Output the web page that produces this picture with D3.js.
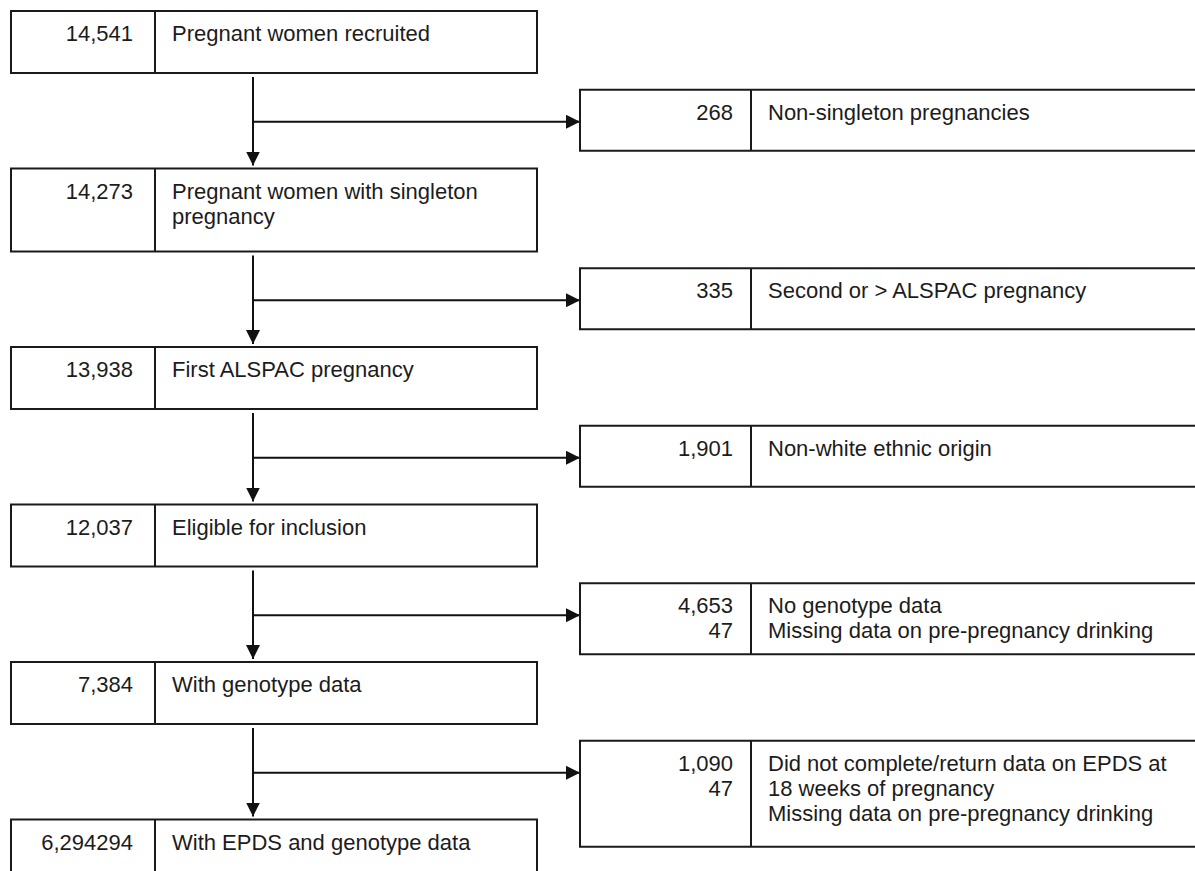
<!DOCTYPE html>
<html>
<head>
<meta charset="utf-8">
<script src="https://cdn.jsdelivr.net/npm/d3@7"></script>
<style>
  html, body { margin: 0; padding: 0; background: #fff; }
  svg { display: block; }
  text { font-family: "Liberation Sans", Arial, sans-serif; font-size: 22px; fill: #1c1c1c; }
</style>
</head>
<body>
<div id="chart"></div>
<script>
// flow data
const mainCounts = ["14,541", "14,273", "13,938", "12,037", "7,384", "6,294294"];
const mainLabels = [
    ["Pregnant women recruited"],
    ["Pregnant women with singleton", "pregnancy"],
    ["First ALSPAC pregnancy"],
    ["Eligible for inclusion"],
    ["With genotype data"],
    ["With EPDS and genotype data"]
];
const excludedCounts = [["268"], ["335"], ["1,901"], ["4,653", "47"], ["1,090", "47"]];
const excludedLabels = [
    ["Non-singleton pregnancies"],
    ["Second or > ALSPAC pregnancy"],
    ["Non-white ethnic origin"],
    ["No genotype data", "Missing data on pre-pregnancy drinking"],
    ["Did not complete/return data on EPDS at", "18 weeks of pregnancy", "Missing data on pre-pregnancy drinking"]
];

// layout
const width = 1195;
const height = 871;
const mainHeights = [62, 83, 62, 62, 62, 62];
const excludedHeights = [61, 61, 61, 71, 106];
const gap = 95.5;
const lineStep = 25;
const baseline = 30;

const mainX = { left: 11, divider: 155, right: 537 };
const sideX = { left: 580, divider: 751, right: 1205 };
const stemX = 253;

const svg = d3.select('#chart')
    .append('svg')
    .attr('width', width)
    .attr('height', height);

svg.append('defs').append('marker')
    .attr('id', 'head')
    .attr('viewBox', '0 0 14 14')
    .attr('refX', 14)
    .attr('refY', 7)
    .attr('markerWidth', 14)
    .attr('markerHeight', 14)
    .attr('markerUnits', 'userSpaceOnUse')
    .attr('orient', 'auto')
    .append('path')
    .attr('d', 'M0,0 L14,7 L0,14 Z')
    .attr('fill', '#111');

// main box tops, stacked
const mainTops = [];
mainHeights.forEach((h, i) => {
    mainTops.push(i === 0 ? 11 : mainTops[i - 1] + mainHeights[i - 1] + gap);
});

const mainBoxes = mainCounts.map((c, i) => ({
    count: [c], label: mainLabels[i], y: mainTops[i], h: mainHeights[i]
}));

const sideBoxes = excludedCounts.map((c, i) => {
    const from = mainBoxes[i];
    const branchY = from.y + from.h + gap / 2 + 1;
    return { count: c, label: excludedLabels[i], branchY, y: branchY - 32, h: excludedHeights[i] };
});

function drawBoxes(data, xs, numPad) {
    const g = svg.append('g')
        .selectAll('g')
        .data(data)
        .join('g');

    g.append('rect')
        .attr('x', xs.left)
        .attr('y', d => d.y)
        .attr('width', xs.right - xs.left)
        .attr('height', d => d.h)
        .attr('fill', '#fff')
        .attr('stroke', '#1a1a1a')
        .attr('stroke-width', 2);

    g.append('line')
        .attr('x1', xs.divider)
        .attr('x2', xs.divider)
        .attr('y1', d => d.y)
        .attr('y2', d => d.y + d.h)
        .attr('stroke', '#1a1a1a')
        .attr('stroke-width', 2);

    g.append('text')
        .attr('text-anchor', 'end')
        .selectAll('tspan')
        .data(d => d.count.map((t, k) => ({ t, y: d.y + baseline + k * lineStep })))
        .join('tspan')
        .attr('x', xs.divider - numPad)
        .attr('y', d => d.y)
        .text(d => d.t);

    g.append('text')
        .selectAll('tspan')
        .data(d => d.label.map((t, k) => ({ t, y: d.y + baseline + k * lineStep })))
        .join('tspan')
        .attr('x', xs.divider + 17)
        .attr('y', d => d.y)
        .text(d => d.t);
}

// vertical arrows between main boxes
svg.append('g')
    .selectAll('line')
    .data(mainBoxes.slice(1))
    .join('line')
    .attr('x1', stemX)
    .attr('x2', stemX)
    .attr('y1', (d, i) => mainBoxes[i].y + mainBoxes[i].h + 4)
    .attr('y2', d => d.y - 3)
    .attr('stroke', '#111')
    .attr('stroke-width', 2)
    .attr('marker-end', 'url(#head)');

// branches to exclusions
svg.append('g')
    .selectAll('line')
    .data(sideBoxes)
    .join('line')
    .attr('x1', stemX)
    .attr('x2', sideX.left)
    .attr('y1', d => d.branchY)
    .attr('y2', d => d.branchY)
    .attr('stroke', '#111')
    .attr('stroke-width', 2)
    .attr('marker-end', 'url(#head)');

drawBoxes(mainBoxes, mainX, 22);
drawBoxes(sideBoxes, sideX, 18);
</script>
</body>
</html>
